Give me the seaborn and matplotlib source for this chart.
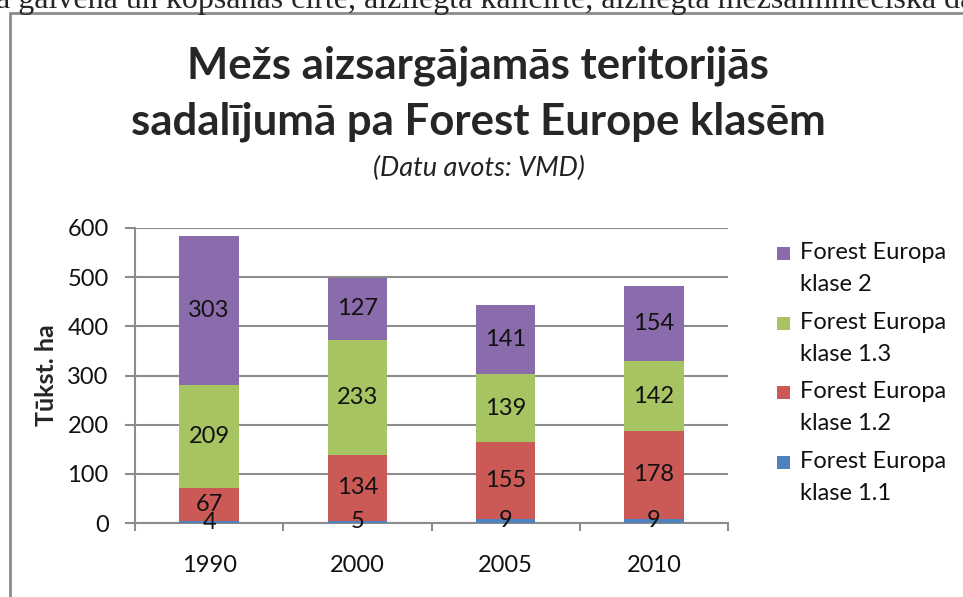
import matplotlib
matplotlib.use("Agg")
import matplotlib.pyplot as plt
from matplotlib.lines import Line2D
from matplotlib.patches import Rectangle
import seaborn as sns
import pandas as pd
import numpy as np

years = ["1990", "2000", "2005", "2010"]
klase_11 = [4, 5, 9, 9]
klase_12 = [67, 134, 155, 178]
klase_13 = [209, 233, 139, 142]
klase_2 = [303, 127, 141, 154]
legend_line1 = ["Forest Europa", "Forest Europa", "Forest Europa", "Forest Europa"]
legend_line2 = ["klase 1.1", "klase 1.2", "klase 1.3", "klase 2"]
colors = ["#4F81BD", "#CB5A56", "#A6C462", "#8A6CAC"]
y_ticks = [0, 100, 200, 300, 400, 500, 600]

sns.set_theme(style="white")
plt.rcParams["font.family"] = ["Lato", "DejaVu Sans"]

H = 597.0
W = 963.0
fig = plt.figure(figsize=(9.63, 5.97), dpi=100)
ax = fig.add_axes([135/W, 1-523/H, (728-135)/W, (523-228)/H])

layers = [klase_11, klase_12, klase_13, klase_2]
cum = np.cumsum(np.array(layers), axis=0)
df = pd.DataFrame({"year": years})
# draw from tallest cumulative to smallest so the stack shows
for k in range(len(layers) - 1, -1, -1):
    df["v"] = cum[k]
    sns.barplot(data=df, x="year", y="v", color=colors[k], width=0.4,
                saturation=1, ax=ax, zorder=3, linewidth=0)

# segment labels
for k in range(len(layers)):
    bottoms = cum[k] - np.array(layers[k])
    for i, v in enumerate(layers[k]):
        ax.text(i, bottoms[i] + v / 2, str(v), ha="center", va="center",
                fontsize=17, color="#111111", zorder=5)

ax.set_ylim(0, 600)
ax.set_xlim(-0.5, 3.5)
ax.set_yticks(y_ticks)
ax.set_yticklabels([str(t) for t in y_ticks])
ax.yaxis.grid(True, color="#8C8C8C", linewidth=1.5, zorder=0)
ax.set_axisbelow(True)
ax.set_xlabel("")
ax.set_ylabel("Tūkst. ha", fontsize=18, fontweight="bold", labelpad=7)
for s in ["top", "right"]:
    ax.spines[s].set_visible(False)
for s in ["left", "bottom"]:
    ax.spines[s].set_color("#8C8C8C")
    ax.spines[s].set_linewidth(1.5)
ax.tick_params(axis="y", direction="out", length=7, width=1.5, color="#8C8C8C",
               labelsize=17, pad=12, left=True, labelcolor="#111111")
ax.set_xticks(np.arange(-0.5, 4.0, 1.0), minor=True)
ax.tick_params(axis="x", which="minor", direction="out", length=6, width=1.5,
               color="#8C8C8C", bottom=True)
ax.tick_params(axis="x", which="major", length=0, labelsize=17, pad=23,
               labelcolor="#111111")

# titles
fig.text(478/W, 1-78/H, "Mežs aizsargājamās teritorijās", ha="center",
         va="baseline", fontsize=31.5, fontweight="bold")
fig.text(478/W, 1-135/H, "sadalījumā pa Forest Europe klasēm", ha="center",
         va="baseline", fontsize=31.5, fontweight="bold")
fig.text(479/W, 1-176/H, "(Datu avots: VMD)", ha="center", va="baseline",
         fontsize=19.5, style="italic", color="#222222")

# legend (top entry = klase 2)
legend_base = [259, 329, 398, 468]
for j, k in enumerate(range(len(layers) - 1, -1, -1)):
    yb = legend_base[j]
    fig.patches.append(Rectangle((777/W, 1-(yb+1)/H), 13/W, 13/H,
                                 transform=fig.transFigure, facecolor=colors[k],
                                 edgecolor="none"))
    fig.text(800/W, 1-yb/H, legend_line1[k], ha="left", va="baseline",
             fontsize=17, color="#111111")
    fig.text(800/W, 1-(yb+32)/H, legend_line2[k], ha="left", va="baseline",
             fontsize=17, color="#111111")

# surrounding page text and chart-area border
fig.text(-0.004, 1-8/H,
         "a galvenā un kopšanas cirte, aizliegta kailcirte, aizliegta mežsaimnieciskā darbība",
         family="Liberation Serif", fontsize=23, ha="left", va="baseline")
fig.add_artist(Line2D([9.5/W, 9.5/W], [0, 1-13/H], transform=fig.transFigure,
                      color="#8C8C8C", linewidth=2))
fig.add_artist(Line2D([9.5/W, 1], [1-13/H, 1-13/H], transform=fig.transFigure,
                      color="#8C8C8C", linewidth=2))

fig.savefig("out.png", dpi=100)
